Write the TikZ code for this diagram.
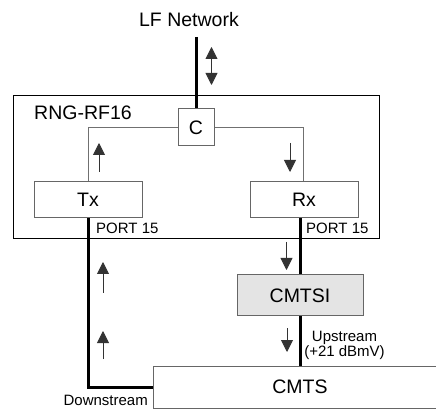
\documentclass[tikz,border=0pt]{standalone}
\usepackage{fontspec}
\setmainfont{Liberation Sans}
\usetikzlibrary{arrows.meta}
\definecolor{boxgray}{HTML}{666666}
\definecolor{linegray}{HTML}{707070}
\definecolor{fillgray}{HTML}{E4E4E4}
\begin{document}
\begin{tikzpicture}[x=1pt,y=-1pt,
  bigtext/.style={font=\fontsize{19.5}{22}\selectfont},
  smalltext/.style={font=\fontsize{15}{12.5}\selectfont},
  blockbox/.style={draw=boxgray,line width=1pt,inner sep=0pt,bigtext},
  thinline/.style={draw=linegray,line width=1pt},
  thickline/.style={draw=black,line width=3pt},
  flowarrow/.style={draw=black!80,line width=0.9pt,-{Triangle[width=12pt,length=12pt]}},
  bothflow/.style={draw=black!80,line width=0.9pt,{Triangle[width=12pt,length=12pt]}-{Triangle[width=12pt,length=12pt]}}
]
\useasboundingbox (0,0) rectangle (436,411);
\fill[white] (0,0) rectangle (436,411);

% outer box
\node[draw=black,line width=1pt,minimum width=366pt,minimum height=143pt,inner sep=0pt] (rng) at (196,167.5) {};
\node[bigtext,anchor=west,inner sep=0pt] (rnglabel) at (34,113) {RNG-RF16};

\node[bigtext,inner sep=0pt] (lf) at (189,20) {LF Network};
\coordinate (lftop) at (196,37);

\node[blockbox,fill=white,minimum width=36pt,minimum height=37pt] (c) at (196,127.5) {C};
\node[blockbox,minimum width=108pt,minimum height=36pt] (tx) at (88,200) {Tx};
\node[blockbox,minimum width=108pt,minimum height=36pt] (rx) at (304,200) {Rx};
\node[blockbox,fill=fillgray,minimum width=126pt,minimum height=41pt] (cmtsi) at (300,295.5) {CMTSI};
\node[blockbox,minimum width=294pt,minimum height=42pt] (cmts) at (300,387) {CMTS};

% connectors
\draw[thickline] (lftop) -- (c.north);
\draw[thinline] (c.west) -| (tx.north);
\draw[thinline] (c.east) -| ([xshift=-1pt]rx.north);
\draw[thickline] (tx.south) |- (cmts.west);
\draw[thickline] (cmtsi.north |- rx.south) -- (cmtsi.north);
\draw[thickline] (cmtsi.south) -- (cmtsi.south |- cmts.north);

% labels
\node[smalltext,anchor=west,inner sep=0pt] (port1) at (96,228) {PORT 15};
\node[smalltext,anchor=west,inner sep=0pt] (port2) at (306,228) {PORT 15};
\node[smalltext,align=center,inner sep=0pt] (up) at (344.5,345) {Upstream\\(+21 dBmV)};
\node[smalltext,anchor=east,inner sep=0pt] (down) at (148,400) {Downstream};

% flow arrows
\draw[bothflow] (211.5,47) -- (211.5,85);
\draw[flowarrow] (99,172) -- (99,143);
\draw[flowarrow] (290,143) -- (290,172);
\draw[flowarrow] (286.5,242) -- (286.5,270);
\draw[flowarrow] (103,293) -- (103,262);
\draw[flowarrow] (103,359) -- (103,331);
\draw[flowarrow] (287,328) -- (287,352);
\end{tikzpicture}
\end{document}
